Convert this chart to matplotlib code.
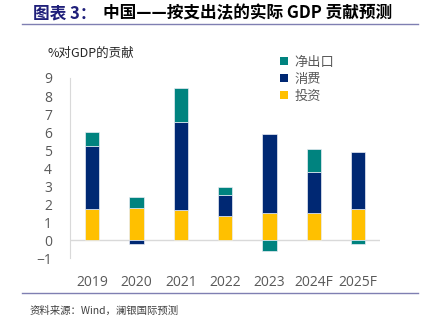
"""
China real GDP growth contributions by expenditure, stacked bars.
"""

import numpy as np
import matplotlib
matplotlib.use('Agg')
import matplotlib.pyplot as plt
from matplotlib.patches import Patch

years = ['2019', '2020', '2021', '2022', '2023', '2024F', '2025F']
investment = [1.75, 1.8, 1.67, 1.35, 1.48, 1.52, 1.74]
consumption = [3.47, -0.2, 4.9, 1.17, 4.39, 2.28, 3.16]
net_exports = [0.78, 0.57, 1.87, 0.41, -0.6, 1.26, -0.2]

series_names = ['投资', '消费', '净出口']
colors = ['#FFC000', '#002873', '#00837F']

CJK = ['Noto Sans CJK SC', 'DejaVu Sans']


def stack_bottoms(series):
    """
    Running bottoms for stacked bars, positives and negatives kept apart.
    """
    pos = np.zeros(len(series[0]))
    neg = np.zeros(len(series[0]))
    bottoms = []
    for s in series:
        s = np.asarray(s, dtype=float)
        b = np.where(s >= 0, pos, neg)
        bottoms.append(b)
        pos = pos + np.where(s >= 0, s, 0)
        neg = neg + np.where(s < 0, s, 0)
    return bottoms


def main():
    fig = plt.figure(figsize=(4.22, 3.25), dpi=100)
    ax = fig.add_axes([0.166, 0.206, 0.735, 0.554])

    x = np.arange(len(years))
    series = [investment, consumption, net_exports]
    bottoms = stack_bottoms(series)
    for vals, b, c in zip(series, bottoms, colors):
        ax.bar(x, vals, bottom=b, width=0.32, color=c,
               edgecolor='#E8ECF4', linewidth=0.5, zorder=3)

    ax.axhline(0, color='#D9D9D9', linewidth=1, zorder=2)
    ax.set_xlim(-0.5, len(years) - 0.5)
    ax.set_ylim(-1, 9)
    ax.set_yticks(range(-1, 10))
    ax.set_xticks(x)
    ax.set_xticklabels(years)
    ax.tick_params(axis='both', length=0, labelsize=10, colors='#595959',
                   labelfontfamily='Open Sans')
    ax.tick_params(axis='x', pad=12)
    ax.tick_params(axis='y', pad=13)
    for side in ['top', 'right', 'bottom']:
        ax.spines[side].set_visible(False)
    ax.spines['left'].set_color('#D9D9D9')

    fig.text(48 / 422, 1 - 53 / 325, '%对GDP的贡献', family=CJK,
             fontsize=9, color='#262626', va='center', ha='left')

    handles = [Patch(facecolor=c, edgecolor='none') for c in colors]
    fig.legend(handles[::-1], series_names[::-1], loc='upper left',
               bbox_to_anchor=(268 / 422, 1 - 44 / 325), frameon=False,
               prop={'family': CJK, 'size': 9.5}, labelcolor='#595959',
               handlelength=0.6, handleheight=0.6, handletextpad=0.5,
               labelspacing=0.3)

    # title with the prefix in navy
    fig.text(33 / 422, 1 - 13 / 325, '图表 3：', family=CJK, fontsize=12,
             fontweight='bold', color='#1F1F7A', va='center', ha='left')
    fig.text(103 / 422, 1 - 13 / 325, '中国——按支出法的实际 GDP 贡献预测',
             family=CJK, fontsize=12, fontweight='bold', color='black',
             va='center', ha='left')
    fig.add_artist(plt.Line2D([22 / 422, 418 / 422], [1 - 24 / 325] * 2,
                              color='#7F7FB2', linewidth=1))

    fig.add_artist(plt.Line2D([22 / 422, 418 / 422], [1 - 293 / 325] * 2,
                              color='#7F7FB2', linewidth=1))
    fig.text(30 / 422, 1 - 311 / 325, '资料来源：Wind，澜银国际预测', family=CJK,
             fontsize=7.5, color='#404040', va='center', ha='left')

    fig.savefig('out.png', dpi=100)


if __name__ == '__main__':
    main()
